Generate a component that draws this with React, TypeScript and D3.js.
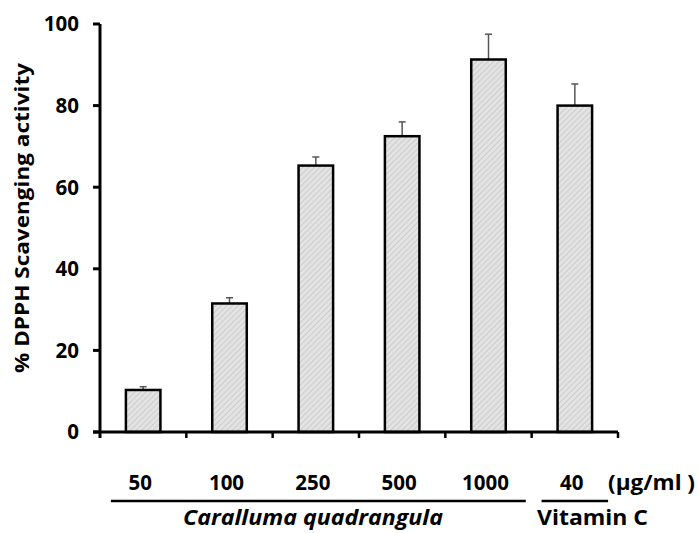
import * as d3 from "d3";

const categories = ["50", "100", "250", "500", "1000", "40"];
const values = [10.3, 31.5, 65.3, 72.5, 91.3, 80.0];
const errors = [0.8, 1.4, 2.1, 3.5, 6.2, 5.3];
const yTicks = [0, 20, 40, 60, 80, 100];

const width = 699;
const height = 533;
const font = "'Open Sans', 'DejaVu Sans', sans-serif";

export default function App() {
  const x = d3.scaleBand<string>().domain(categories).range([100, 618]).paddingInner(0.6).paddingOuter(0.3);
  const y = d3.scaleLinear().domain([0, 100]).range([432, 24]);
  const bw = x.bandwidth();
  const cx = (c: string) => x(c)! + bw / 2;
  const step = x.step();
  const boundaries = d3.range(1, categories.length + 1).map((i) => 100 + i * step);

  return (
    <svg width={width} height={height} style={{ position: "absolute", left: 0, top: 0, background: "#fff" }}>
      <defs>
        <pattern id="hatch" width="4" height="4" patternUnits="userSpaceOnUse" patternTransform="rotate(45)">
          <rect width="4" height="4" fill="#e3e3e3" />
          <line x1="0" y1="0" x2="0" y2="4" stroke="#bdbdbd" strokeWidth="1.2" />
        </pattern>
      </defs>

      {/* bars with error bars */}
      {categories.map((c, i) => (
        <g key={c}>
          <line x1={cx(c)} x2={cx(c)} y1={y(values[i])} y2={y(values[i] + errors[i])} stroke="#555" strokeWidth={1.5} />
          <line x1={cx(c) - 3.5} x2={cx(c) + 3.5} y1={y(values[i] + errors[i])} y2={y(values[i] + errors[i])} stroke="#555" strokeWidth={1.5} />
          <rect x={x(c)} y={y(values[i])} width={bw} height={y(0) - y(values[i])} fill="url(#hatch)" stroke="#000" strokeWidth={2.5} />
        </g>
      ))}

      {/* y axis */}
      <line x1={100} x2={100} y1={y(100)} y2={y(0) + 6} stroke="#000" strokeWidth={3} />
      {yTicks.map((t) => (
        <g key={t}>
          <line x1={93} x2={100} y1={y(t)} y2={y(t)} stroke="#000" strokeWidth={3} />
          <text x={79} y={y(t)} dy="0.36em" textAnchor="end" fontFamily={font} fontWeight={700} fontSize={20.5}>
            {t}
          </text>
        </g>
      ))}
      <text transform="translate(29,218) rotate(-90)" textAnchor="middle" fontFamily={font} fontWeight={700} fontSize={20} textLength={310} lengthAdjust="spacingAndGlyphs">
        % DPPH Scavenging activity
      </text>

      {/* x axis */}
      <line x1={93} x2={618} y1={y(0)} y2={y(0)} stroke="#000" strokeWidth={3} />
      {boundaries.map((b) => (
        <line key={b} x1={b} x2={b} y1={y(0)} y2={y(0) + 6} stroke="#000" strokeWidth={2.5} />
      ))}

      {categories.map((c) => (
        <text key={c} x={cx(c) - 3} y={490} textAnchor="middle" fontFamily={font} fontWeight={700} fontSize={20.5}>
          {c}
        </text>
      ))}
      <text x={608} y={490} fontFamily={font} fontWeight={700} fontSize={21} textLength={87} lengthAdjust="spacingAndGlyphs">
        (µg/ml )
      </text>

      {/* group brackets */}
      <line x1={x("50")! - 15} x2={x("1000")! + bw + 20} y1={501} y2={501} stroke="#000" strokeWidth={2.5} />
      <line x1={x("40")! - 16} x2={x("40")! + bw + 16} y1={501} y2={501} stroke="#000" strokeWidth={2.5} />
      <text x={313} y={525} textAnchor="middle" fontFamily={font} fontStyle="italic" fontWeight={700} fontSize={22} textLength={260} lengthAdjust="spacingAndGlyphs">
        Caralluma quadrangula
      </text>
      <text x={537} y={525} fontFamily={font} fontWeight={700} fontSize={22} textLength={111} lengthAdjust="spacingAndGlyphs">
        Vitamin  C
      </text>
    </svg>
  );
}
